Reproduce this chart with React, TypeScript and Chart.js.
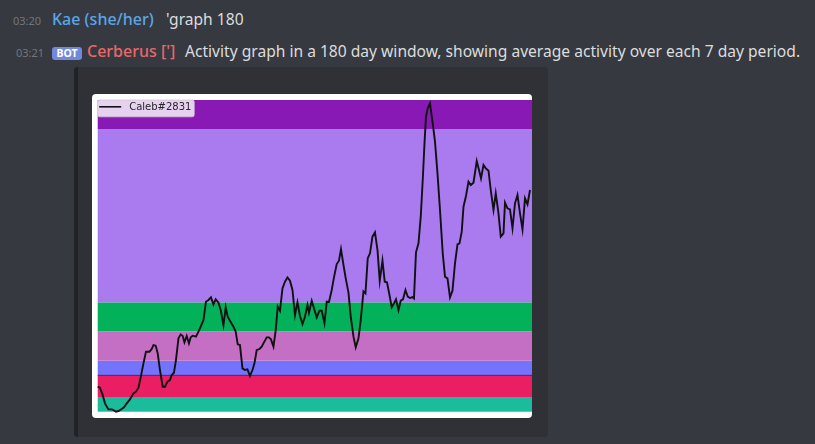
import React, { useEffect, useRef } from "react";
import { Chart, registerables } from "chart.js";

Chart.register(...registerables);

// ---- data ----
const seriesLabel = "Caleb#2831";
const days = [
  0.0, 0.9, 2.0, 2.9, 4.3, 5.6, 6.3, 7.3, 8.3, 9.6, 10.5, 11.6, 12.9, 14.3, 15.3, 16.3, 17.2, 18.3, 19.3, 20.7,
  21.6, 22.3, 23.2, 24.0, 24.9, 26.0, 26.9, 27.9, 28.9, 29.6, 30.5, 31.3, 32.3, 33.2, 34.0, 34.7, 35.6, 36.5, 37.2, 38.0,
  39.3, 40.3, 41.2, 42.3, 43.3, 44.3, 45.3, 46.3, 47.2, 48.3, 49.2, 50.3, 51.2, 52.0, 52.9, 54.3, 55.2, 56.0, 56.9, 57.9,
  58.9, 59.9, 60.9, 61.9, 62.7, 63.6, 64.7, 65.6, 66.5, 67.6, 68.5, 69.3, 70.3, 71.2, 72.0, 72.9, 73.9, 74.9, 75.9, 76.9,
  77.9, 78.9, 79.9, 80.9, 81.9, 82.9, 83.9, 84.5, 85.6, 86.7, 87.6, 88.7, 89.6, 90.7, 91.6, 92.5, 93.6, 94.5, 95.6, 96.5,
  97.3, 98.3, 99.2, 100.3, 101.2, 102.3, 103.2, 104.3, 105.2, 106.3, 107.1, 108.0, 108.9, 109.9, 110.9, 111.9, 112.8, 113.9, 114.8, 115.7,
  116.7, 117.6, 118.5, 119.3, 120.3, 121.2, 122.1, 123.1, 124.0, 124.9, 125.9, 126.5, 127.3, 128.3, 129.2, 130.0, 130.7, 131.3, 132.0, 132.9,
  134.0, 134.9, 135.9, 136.9, 138.0, 138.9, 139.9, 140.9, 141.9, 142.9, 143.9, 144.7, 145.6, 146.3, 147.3, 148.3, 149.2, 150.3, 151.6, 152.5,
  153.3, 154.3, 155.2, 156.3, 157.2, 158.3, 159.2, 160.3, 161.2, 162.3, 162.9, 163.9, 164.9, 165.9, 166.9, 167.9, 168.9, 169.9, 170.9, 171.9,
  172.9,
];
const activity = [
  75, 72, 50, 25, 7, 7, 5, 0, 2, 8, 13, 25, 37, 55, 60, 72, 103, 145, 180, 180,
  188, 200, 198, 175, 125, 75, 75, 90, 95, 110, 117, 155, 220, 232, 227, 208, 227, 205, 223, 228,
  225, 240, 255, 275, 330, 335, 343, 322, 337, 327, 305, 260, 313, 285, 273, 255, 240, 202, 200, 130,
  125, 127, 107, 125, 145, 185, 188, 195, 208, 223, 223, 217, 195, 245, 315, 303, 370, 390, 403, 393,
  365, 290, 328, 287, 263, 285, 320, 297, 333, 305, 283, 303, 303, 265, 330, 329, 365, 403, 443, 453,
  488, 440, 400, 357, 285, 225, 193, 220, 275, 361, 355, 460, 475, 525, 538, 485, 392, 453, 390, 388,
  350, 313, 325, 337, 305, 333, 337, 365, 345, 341, 344, 340, 478, 505, 585, 695, 805, 885, 910, 925,
  865, 810, 715, 605, 475, 405, 400, 343, 363, 445, 502, 505, 540, 615, 647, 690, 680, 687, 752, 725,
  700, 740, 730, 723, 665, 605, 655, 595, 525, 535, 627, 610, 607, 550, 625, 650, 595, 547, 640, 622,
  665,
];
const bandEdges = [0, 44, 109, 153, 241, 328, 848, 935];
const bandColors = ["#1abc9c", "#e91e63", "#7373fe", "#c56fc4", "#02b159", "#a97bef", "#8819b4"];
const dividerValue = 109;
const windowDays = 173.7;

const bandsPlugin = {
  id: "bands",
  beforeDatasetsDraw(chart: any) {
    const { ctx, chartArea } = chart;
    const y = chart.scales.y;
    ctx.save();
    for (let i = 0; i < bandColors.length; i++) {
      const top = y.getPixelForValue(bandEdges[i + 1]);
      const bottom = y.getPixelForValue(bandEdges[i]);
      ctx.fillStyle = bandColors[i];
      ctx.fillRect(chartArea.left, top, chartArea.right - chartArea.left, bottom - top);
    }
    const dy = y.getPixelForValue(dividerValue);
    ctx.strokeStyle = "rgba(60,20,50,0.85)";
    ctx.lineWidth = 1;
    ctx.beginPath();
    ctx.moveTo(chartArea.left, dy);
    ctx.lineTo(chartArea.right, dy);
    ctx.stroke();
    ctx.restore();
  },
};

const legendPlugin = {
  id: "mplLegend",
  afterDatasetsDraw(chart: any) {
    const { ctx, chartArea } = chart;
    const x0 = chartArea.left;
    const y0 = chartArea.top;
    const w = 96.5;
    const h = 16.8;
    ctx.save();
    ctx.fillStyle = "rgba(255,255,255,0.8)";
    ctx.strokeStyle = "rgba(204,204,204,0.8)";
    ctx.lineWidth = 1;
    const r = 2;
    ctx.beginPath();
    ctx.moveTo(x0 + r, y0);
    ctx.lineTo(x0 + w - r, y0);
    ctx.quadraticCurveTo(x0 + w, y0, x0 + w, y0 + r);
    ctx.lineTo(x0 + w, y0 + h - r);
    ctx.quadraticCurveTo(x0 + w, y0 + h, x0 + w - r, y0 + h);
    ctx.lineTo(x0 + r, y0 + h);
    ctx.quadraticCurveTo(x0, y0 + h, x0, y0 + h - r);
    ctx.lineTo(x0, y0 + r);
    ctx.quadraticCurveTo(x0, y0, x0 + r, y0);
    ctx.closePath();
    ctx.fill();
    ctx.stroke();
    ctx.strokeStyle = "#111";
    ctx.lineWidth = 1.6;
    ctx.beginPath();
    ctx.moveTo(x0 + 1.5, y0 + 6.8);
    ctx.lineTo(x0 + 23.5, y0 + 6.8);
    ctx.stroke();
    ctx.fillStyle = "#262626";
    ctx.font = "10px 'DejaVu Sans'";
    ctx.textBaseline = "middle";
    ctx.fillText(chart.data.datasets[0].label, x0 + 31.5, y0 + 7.2);
    ctx.restore();
  },
};

function ActivityChart() {
  const ref = useRef<HTMLCanvasElement>(null);
  useEffect(() => {
    if (!ref.current) return;
    const chart = new Chart(ref.current, {
      type: "line",
      data: {
        datasets: [
          {
            label: seriesLabel,
            data: days.map((d, i) => ({ x: d, y: activity[i] })),
            borderColor: "#111111",
            borderWidth: 1.9,
            pointRadius: 0,
            tension: 0,
            fill: false,
            clip: false as any,
          },
        ],
      },
      options: {
        animation: false,
        responsive: false,
        devicePixelRatio: 1,
        layout: { padding: { left: 5.7, top: 6, right: 0, bottom: 6.3 } },
        scales: {
          x: { type: "linear", min: 0, max: windowDays, display: false },
          y: { min: 0, max: bandEdges[bandEdges.length - 1], display: false },
        },
        plugins: { legend: { display: false }, tooltip: { enabled: false } },
      },
      plugins: [bandsPlugin, legendPlugin],
    });
    return () => chart.destroy();
  }, []);
  return <canvas ref={ref} width={440} height={324} style={{ display: "block", width: 440, height: 324 }} />;
}

const font = "'Noto Sans', sans-serif";

export default function App() {
  const abs = (s: React.CSSProperties): React.CSSProperties => ({ position: "absolute", whiteSpace: "nowrap", ...s });
  return (
    <div style={{ position: "fixed", left: 0, top: 0, width: 815, height: 444, background: "#36393f", overflow: "hidden", fontFamily: font }}>
      <div style={abs({ left: 13, top: 15.2, fontSize: 11, lineHeight: "11px", color: "#72767d" })}>03:20</div>
      <div style={abs({ left: 52, top: 10.8, fontSize: 16, lineHeight: "16px", color: "#5aa6e8", fontWeight: 500 })}>Kae (she/her)</div>
      <div style={abs({ left: 166, top: 11, fontSize: 15.6, lineHeight: "16px", color: "#dcddde" })}>'graph 180</div>

      <div style={abs({ left: 16, top: 46.9, fontSize: 11, lineHeight: "11px", color: "#72767d" })}>03:21</div>
      <div style={abs({ left: 52, top: 47, width: 30, height: 13, background: "#7289da", borderRadius: 3, color: "#fff", fontSize: 10.5, lineHeight: "13px", fontWeight: 700, textAlign: "center" })}>BOT</div>
      <div style={abs({ left: 87, top: 42.8, fontSize: 16, lineHeight: "16px", color: "#e8686b", fontWeight: 500 })}>Cerberus [']</div>
      <div style={abs({ left: 185, top: 43, fontSize: 15.6, lineHeight: "16px", color: "#dcddde" })}>Activity graph in a 180 day window, showing average activity over each 7 day period.</div>

      <div style={abs({ left: 74, top: 67, width: 474, height: 370, background: "#2f3136", borderLeft: "4px solid #202225", borderRadius: 4, boxSizing: "border-box" })} />
      <div style={abs({ left: 92, top: 94, width: 440, height: 324, background: "#ffffff", borderRadius: 4, overflow: "hidden" })}>
        <ActivityChart />
      </div>
    </div>
  );
}
